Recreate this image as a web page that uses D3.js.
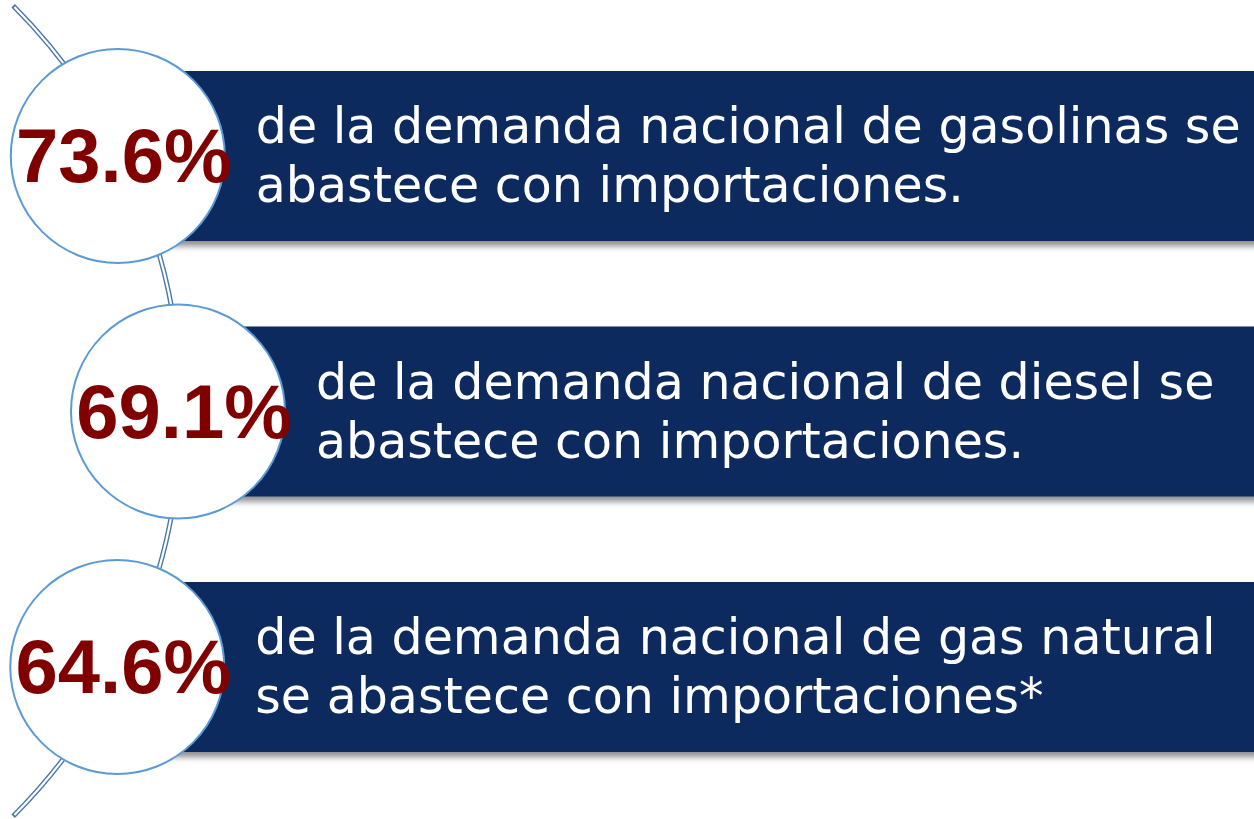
<!DOCTYPE html>
<html>
<head>
<meta charset="utf-8">
<script src="https://cdn.jsdelivr.net/npm/d3@7"></script>
<style>
  html, body { margin: 0; padding: 0; background: #fff; overflow: hidden; }
  .pct { font-family: "Liberation Sans", Arial, Helvetica, sans-serif; font-weight: bold; }
  .cap { font-family: "DejaVu Sans", sans-serif; }
</style>
</head>
<body>
<div id="chart"></div>
<script>
// data
var fuels = ["gasolinas", "diesel", "gas natural"];
var shares = [73.6, 69.1, 64.6];
var captions = [
  ["de la demanda nacional de gasolinas se", "abastece con importaciones."],
  ["de la demanda nacional de diesel se", "abastece con importaciones."],
  ["de la demanda nacional de gas natural", "se abastece con importaciones*"]
];

var width = 1254,
    height = 819;

var navy = "#0a2b5e",
    wine = "#800000",
    ring = "#5b9bd5",
    rail = "#4a78ad";

// big arc the circles sit on
var arcCx = -392, arcCy = 411, arcR = 573;

var svg = d3.select("#chart").append("svg")
    .attr("width", width)
    .attr("height", height);

var defs = svg.append("defs");
var shadow = defs.append("filter")
    .attr("id", "shadow")
    .attr("x", "-5%").attr("y", "-10%")
    .attr("width", "110%").attr("height", "130%");
shadow.append("feDropShadow")
    .attr("dx", 0).attr("dy", 5)
    .attr("stdDeviation", 3)
    .attr("flood-color", "#000")
    .attr("flood-opacity", 0.45);

var y = d3.scalePoint()
    .domain(fuels)
    .range([156, 667]);

var fmt = d3.format(".1f");

var rows = fuels.map(function (f, i) {
  var cy = y(f);
  var cx = arcCx + Math.sqrt(570 * 570 - (cy - arcCy) * (cy - arcCy));
  return { fuel: f, value: shares[i], lines: captions[i], cx: cx, cy: cy };
});

// the double rail
var railPath = d3.path();
railPath.arc(arcCx, arcCy, arcR, -Math.PI / 4, Math.PI / 4);
svg.append("path")
    .attr("d", railPath.toString())
    .attr("fill", "none")
    .attr("stroke", rail)
    .attr("stroke-width", 5);
var innerPath = d3.path();
innerPath.arc(arcCx, arcCy, arcR, -Math.PI / 4 + 0.003, Math.PI / 4 - 0.003);
svg.append("path")
    .attr("d", innerPath.toString())
    .attr("fill", "none")
    .attr("stroke", "#fff")
    .attr("stroke-width", 2.2);

var row = svg.selectAll("g.row")
    .data(rows)
  .enter().append("g")
    .attr("class", "row");

row.append("rect")
    .attr("x", function (d) { return d.cx; })
    .attr("y", function (d) { return d.cy - 85; })
    .attr("width", function (d) { return width + 20 - d.cx; })
    .attr("height", 170)
    .attr("fill", navy)
    .attr("filter", "url(#shadow)");

row.append("circle")
    .attr("cx", function (d) { return d.cx; })
    .attr("cy", function (d) { return d.cy; })
    .attr("r", 107)
    .attr("fill", "#fff")
    .attr("stroke", ring)
    .attr("stroke-width", 2);

row.append("text")
    .attr("class", "pct")
    .attr("x", function (d) { return d.cx + 6; })
    .attr("y", function (d) { return d.cy + 26; })
    .attr("text-anchor", "middle")
    .attr("fill", wine)
    .style("font-size", "76px")
    .text(function (d) { return fmt(d.value) + "%"; });

// two caption lines per bar, each its own text
var cap = row.selectAll("text.cap")
    .data(function (d) {
      return d.lines.map(function (t, j) { return { t: t, x: d.cx + 138, cy: d.cy, j: j }; });
    })
  .enter().append("text")
    .attr("class", "cap")
    .attr("x", function (d) { return d.x; })
    .attr("fill", "#fff")
    .style("font-size", "50px")
    .text(function (d) { return d.t; });

// fit caption size so the first line spans like the reference (~985px)
var w = cap.filter(function (d) { return d.j === 0 && d.cy === y(fuels[0]); }).node().getComputedTextLength();
var size = 50 * 985 / w;
cap.style("font-size", size + "px");

// line gap just wide enough that the two lines' boxes don't touch
var gap = Math.max(57, Math.ceil(size * 1.17) + 1);
cap.attr("y", function (d) { return d.cy + 16.5 + (d.j - 0.5) * gap; });
</script>
</body>
</html>
